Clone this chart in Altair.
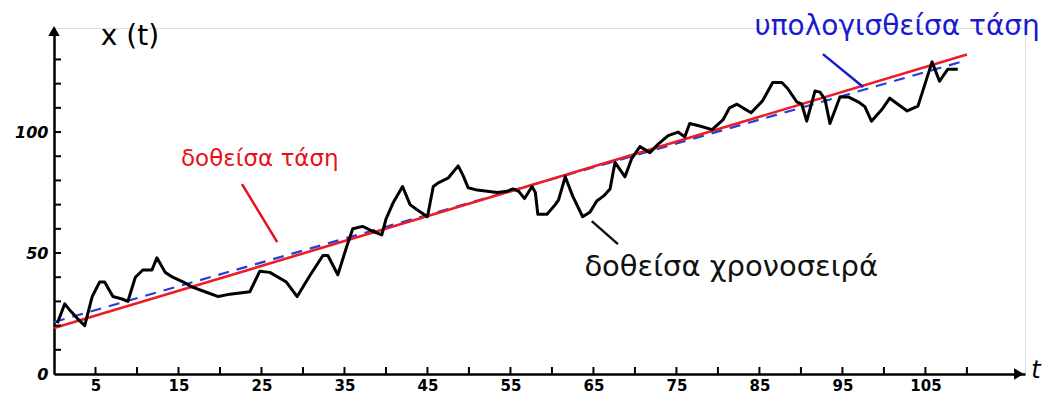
import altair as alt
import pandas as pd

# ---- data ----
series_t = [0.4, 1.3, 2.0, 2.8, 3.7, 4.6, 5.5, 6.1, 7.1, 8.2, 8.9, 9.8, 10.7, 11.8, 12.4, 13.4,
            14.3, 15.6, 16.6, 18.2, 19.8, 21.2, 23.6, 24.8, 26.0, 28.0, 29.3, 30.8, 32.4, 33.0,
            34.2, 35.3, 36.0, 37.2, 38.4, 39.5, 40.0, 40.9, 42.0, 42.9, 43.7, 45.0, 45.7, 46.3,
            47.5, 48.7, 49.3, 49.9, 51.0, 52.2, 53.4, 54.6, 55.3, 56.0, 56.7, 57.6, 58.0, 58.3,
            59.4, 60.4, 60.8, 61.6, 62.5, 63.7, 64.6, 65.4, 66.2, 67.0, 67.6, 68.8, 69.6, 70.6,
            71.8, 72.8, 74.0, 75.2, 76.0, 76.6, 77.8, 79.3, 80.6, 81.4, 82.3, 83.0, 84.0, 85.4,
            86.6, 87.7, 88.4, 89.5, 90.1, 90.7, 91.7, 92.3, 92.9, 93.5, 94.7, 95.7, 96.9, 97.7,
            98.5, 99.8, 100.7, 102.8, 104.1, 105.8, 106.7, 107.7, 108.9]
series_x = [21, 29, 26, 23, 20, 32, 38, 38, 32, 31, 30, 40, 43, 43, 48, 42,
            40, 38, 36, 34, 32, 33, 34, 42.5, 42, 38, 32, 40.5, 49, 49,
            41, 53, 60, 61, 59, 57.5, 64, 71, 77.5, 70, 68, 65, 77.5, 79,
            81, 86, 82, 77, 76, 75.5, 75, 75.5, 76.5, 75.5, 72.5, 77.5, 75, 66,
            66, 70, 72, 81.5, 73.5, 65, 67, 71.5, 73.5, 76.5, 87.5, 81.5, 89, 94,
            91.5, 95, 98.5, 100, 98, 103.5, 102.5, 101, 105, 110, 111.5, 110, 108, 113,
            120.5, 120.5, 118, 112.5, 111.5, 104.5, 117, 116.5, 113.5, 103.5, 114.5, 114.5, 112.5, 110.5,
            104.5, 109.5, 114, 108.7, 110.7, 129, 121, 126, 126]

given_trend_t = [0, 110]
given_trend_x = [19, 132]
estimated_trend_t = [0, 110]
estimated_trend_x = [21.5, 129.7]

x_tick_values = list(range(5, 111, 5))
y_tick_values = list(range(10, 131, 10))
x_label_values = [5, 15, 25, 35, 45, 55, 65, 75, 85, 95, 105]
y_label_values = [0, 50, 100]

annotation_text = ["δοθείσα τάση", "υπολογισθείσα τάση", "δοθείσα χρονοσειρά"]
annotation_t = [24.8, 101.6, 81.6]
annotation_x = [88.8, 143.4, 44.2]
annotation_size = [23, 28, 29]
pointer_t = [22.65, 92.65, 64.8]
pointer_x = [78.5, 132.2, 63.2]
pointer_t2 = [26.9, 97.5, 67.95]
pointer_x2 = [54.5, 118.6, 53.7]
annotation_color = ["#e8101a", "#1a1ad0", "#111111"]

W, H = 971, 346
FONT = "DejaVu Sans"

xs = alt.Scale(domain=[0, 117], nice=False, zero=False)
ys = alt.Scale(domain=[0, 143], nice=False, zero=False)

series_df = pd.DataFrame({"t": series_t, "x": series_x})
given_df = pd.DataFrame({"t": given_trend_t, "x": given_trend_x})
est_df = pd.DataFrame({"t": estimated_trend_t, "x": estimated_trend_x})
xt_df = pd.DataFrame({"t": x_tick_values})
yt_df = pd.DataFrame({"x": y_tick_values})
ann_df = pd.DataFrame({"label": annotation_text, "t": annotation_t, "x": annotation_x,
                       "size": annotation_size,
                       "t1": pointer_t, "x1": pointer_x, "t2": pointer_t2, "x2": pointer_x2,
                       "color": annotation_color})

x_axis = alt.Axis(values=x_label_values, title=None, grid=False, ticks=False,
                  domainColor="black", domainWidth=2.5, labelFont=FONT, labelFontSize=15,
                  labelFontWeight="bold", labelColor="black", labelPadding=4, labelFlush=False)
y_axis = alt.Axis(values=y_label_values, title=None, grid=False, ticks=False,
                  domainColor="black", domainWidth=2.5, labelFont=FONT, labelFontSize=16,
                  labelFontWeight="bold", labelFontStyle="italic", labelColor="black",
                  labelPadding=6)

est = alt.Chart(est_df).mark_line(color="#2040d8", strokeWidth=2.2, strokeDash=[11, 8]).encode(
    x=alt.X("t:Q", scale=xs, axis=x_axis),
    y=alt.Y("x:Q", scale=ys, axis=y_axis),
)
given = alt.Chart(given_df).mark_line(color="#ee1c24", strokeWidth=2.6).encode(
    x=alt.X("t:Q", scale=xs), y=alt.Y("x:Q", scale=ys))
series = alt.Chart(series_df).mark_line(color="black", strokeWidth=3, strokeJoin="round").encode(
    x=alt.X("t:Q", scale=xs), y=alt.Y("x:Q", scale=ys))

xticks = alt.Chart(xt_df).mark_rule(color="black", strokeWidth=2).encode(
    x=alt.X("t:Q", scale=xs), y=alt.value(H), y2=alt.value(H - 7))
yticks = alt.Chart(yt_df).mark_rule(color="black", strokeWidth=2).encode(
    y=alt.Y("x:Q", scale=ys), x=alt.value(0), x2=alt.value(7))

arrow_up = alt.Chart(pd.DataFrame({"a": [0]})).mark_point(
    shape="triangle-up", filled=True, color="black", size=130, opacity=1).encode(
    x=alt.value(0), y=alt.value(3))
arrow_right = alt.Chart(pd.DataFrame({"a": [0]})).mark_point(
    shape="triangle-right", filled=True, color="black", size=130, opacity=1).encode(
    x=alt.value(W - 6), y=alt.value(H))

y_title = alt.Chart(pd.DataFrame({"s": ["x (t)"]})).mark_text(
    font=FONT, fontSize=28, color="black", align="center", baseline="middle").encode(
    text="s:N", x=alt.value(76), y=alt.value(9))
x_title = alt.Chart(pd.DataFrame({"s": ["t"]})).mark_text(
    font=FONT, fontSize=24, fontStyle="italic", color="black", align="center",
    baseline="middle").encode(text="s:N", x=alt.value(W + 11), y=alt.value(H - 3))

pointers = alt.Chart(ann_df).mark_rule(strokeWidth=2.5).encode(
    x=alt.X("t1:Q", scale=xs), y=alt.Y("x1:Q", scale=ys),
    x2="t2:Q", y2="x2:Q",
    color=alt.Color("color:N", scale=None))

labels = alt.Chart(ann_df).mark_text(font=FONT, align="center", baseline="middle").encode(
    x=alt.X("t:Q", scale=xs), y=alt.Y("x:Q", scale=ys), text="label:N",
    size=alt.Size("size:Q", scale=None),
    color=alt.Color("color:N", scale=None))

chart = alt.layer(est, given, series, xticks, yticks, arrow_up, arrow_right,
                  y_title, x_title, pointers, labels).properties(
    width=W, height=H,
    autosize=alt.AutoSizeParams(type="none"),
    padding={"left": 46, "top": 20, "right": 18, "bottom": 21},
).configure_view(stroke=None).configure(background="white")

chart.save("out.html", embed_options={"renderer": "svg", "actions": False})
